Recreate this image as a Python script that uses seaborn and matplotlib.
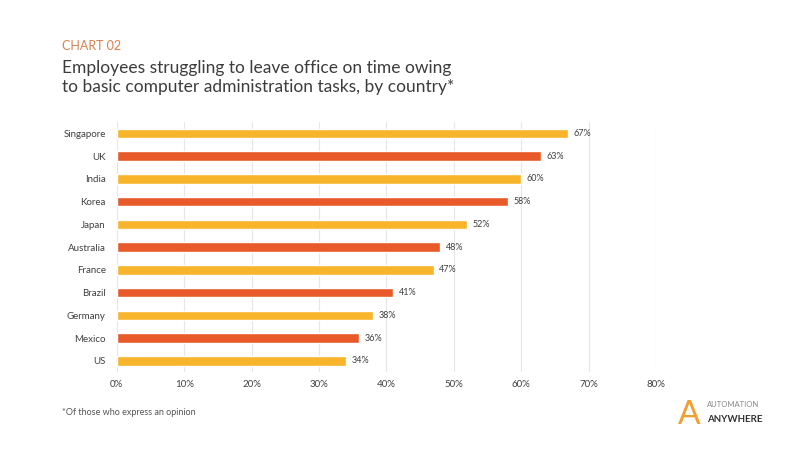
import matplotlib
matplotlib.use("Agg")
import matplotlib.pyplot as plt
import seaborn as sns
import pandas as pd
from matplotlib.ticker import FuncFormatter

# Data
countries = ["Singapore", "UK", "India", "Korea", "Japan", "Australia",
             "France", "Brazil", "Germany", "Mexico", "US"]
shares = [67, 63, 60, 58, 52, 48, 47, 41, 38, 36, 34]
x_ticks = [0, 10, 20, 30, 40, 50, 60, 70, 80]

yellow = "#F8B52B"
orange = "#E85A29"
bar_colors = [yellow if i % 2 == 0 else orange for i in range(len(countries))]

df = pd.DataFrame({"country": countries, "share": shares})

sns.set_style("white")
plt.rcParams["font.family"] = ["Lato", "DejaVu Sans"]

fig = plt.figure(figsize=(8, 4.5), dpi=100)
ax = fig.add_axes([0.146, 0.173, 0.674, 0.556])

sns.barplot(data=df, x="share", y="country", hue="country",
            palette=bar_colors, legend=False, width=0.42, ax=ax,
            saturation=1)

ax.set_xlim(0, 80)
ax.set_xticks(x_ticks)
ax.xaxis.set_major_formatter(FuncFormatter(lambda v, _: f"{v:.0f}%"))
ax.set_xlabel("")
ax.set_ylabel("")
ax.grid(axis="x", color="#E6E6E6", linewidth=0.8)
ax.set_axisbelow(True)
for s in ax.spines.values():
    s.set_visible(False)
ax.tick_params(axis="both", length=0, labelsize=7, colors="#404040")
ax.tick_params(axis="y", pad=8)
ax.tick_params(axis="x", pad=6)

for i, v in enumerate(shares):
    ax.text(v + 0.8, i, f"{v}%", va="center", ha="left",
            fontsize=6.5, color="#404040")

# Titles
fig.text(0.077, 0.888, "CHART 02", fontsize=9, color="#D9824F")
fig.text(0.077, 0.796, "Employees struggling to leave office on time owing\n"
         "to basic computer administration tasks, by country*",
         fontsize=12.5, color="#3C3C3C", linespacing=1.25)

# Footnote
fig.text(0.077, 0.077, "*Of those who express an opinion",
         fontsize=6.5, color="#555555")

# Logo approximation
fig.text(0.862, 0.058, "A", fontsize=24, color="#F0A030", ha="center")
fig.text(0.884, 0.095, "AUTOMATION", fontsize=5.5, color="#888888",
         ha="left")
fig.text(0.884, 0.062, "ANYWHERE", fontsize=7, color="#333333",
         ha="left", fontweight="bold")

fig.savefig("out.png", dpi=100, facecolor="white")
